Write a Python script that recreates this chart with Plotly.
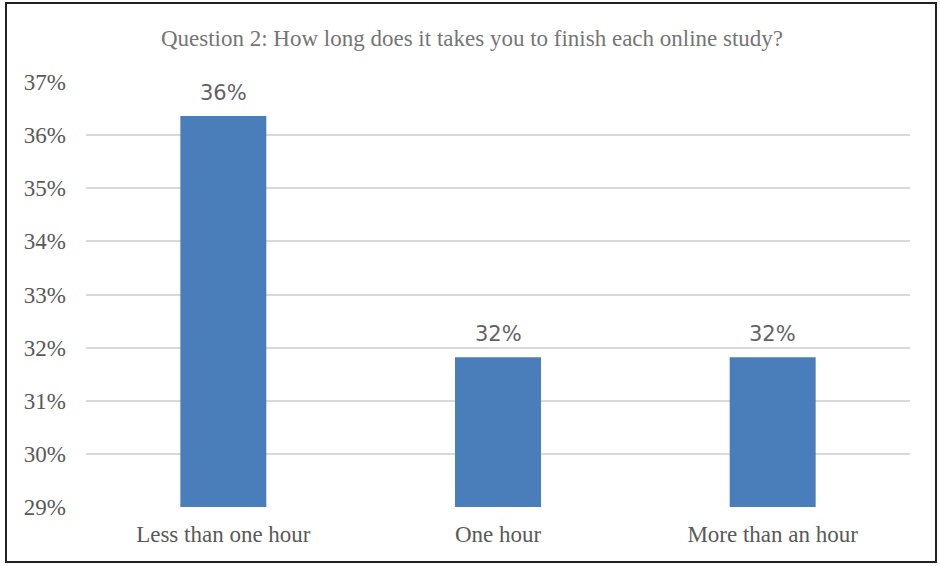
import plotly.graph_objects as go

categories = ["Less than one hour", "One hour", "More than an hour"]
values = [0.3636, 0.3182, 0.3182]
labels = ["36%", "32%", "32%"]
y_ticks = [0.29, 0.30, 0.31, 0.32, 0.33, 0.34, 0.35, 0.36, 0.37]

fig = go.Figure()
fig.add_trace(go.Bar(
    x=categories, y=values,
    marker=dict(color="#4a7ebb", line=dict(width=0)),
    width=0.313,
    hoverinfo="skip",
))

for c, v, t in zip(categories, values, labels):
    fig.add_annotation(x=c, y=v, text=t, showarrow=False, yanchor="bottom",
                       yshift=9, font=dict(family="DejaVu Sans", size=21, color="#636363"))

fig.update_layout(
    width=940, height=566,
    margin=dict(l=86, r=30, t=82, b=59),
    paper_bgcolor="white", plot_bgcolor="white",
    showlegend=False,
    title=dict(text="Question 2: How long does it takes you to finish each online study?",
               x=472 / 940, xref="container", xanchor="center", y=1 - 38 / 566, yref="container",
               yanchor="middle",
               font=dict(family="Liberation Serif", size=23, color="#757575")),
    xaxis=dict(showgrid=False, showline=False, ticks="", zeroline=False,
               tickfont=dict(family="Liberation Serif", size=23, color="#595959"),
               ticklabelstandoff=11),
    yaxis=dict(range=[0.29, 0.37], tickvals=y_ticks, tickformat=".0%",
               showgrid=True, gridcolor="#d9d9d9", gridwidth=1.5, zeroline=False,
               showline=False, ticks="",
               tickfont=dict(family="Liberation Serif", size=23, color="#595959"),
               ticklabelstandoff=19),
    shapes=[dict(type="rect", xref="paper", yref="paper",
                 x0=(6 - 86) / 824, x1=(936 - 86) / 824,
                 y0=(507 - 562) / 425, y1=(507 - 3) / 425,
                 line=dict(color="#222222", width=2), fillcolor="rgba(0,0,0,0)",
                 layer="above")],
)

fig.write_html("out.html", config={"displayModeBar": False},
               post_script="document.body.style.margin='0';")
